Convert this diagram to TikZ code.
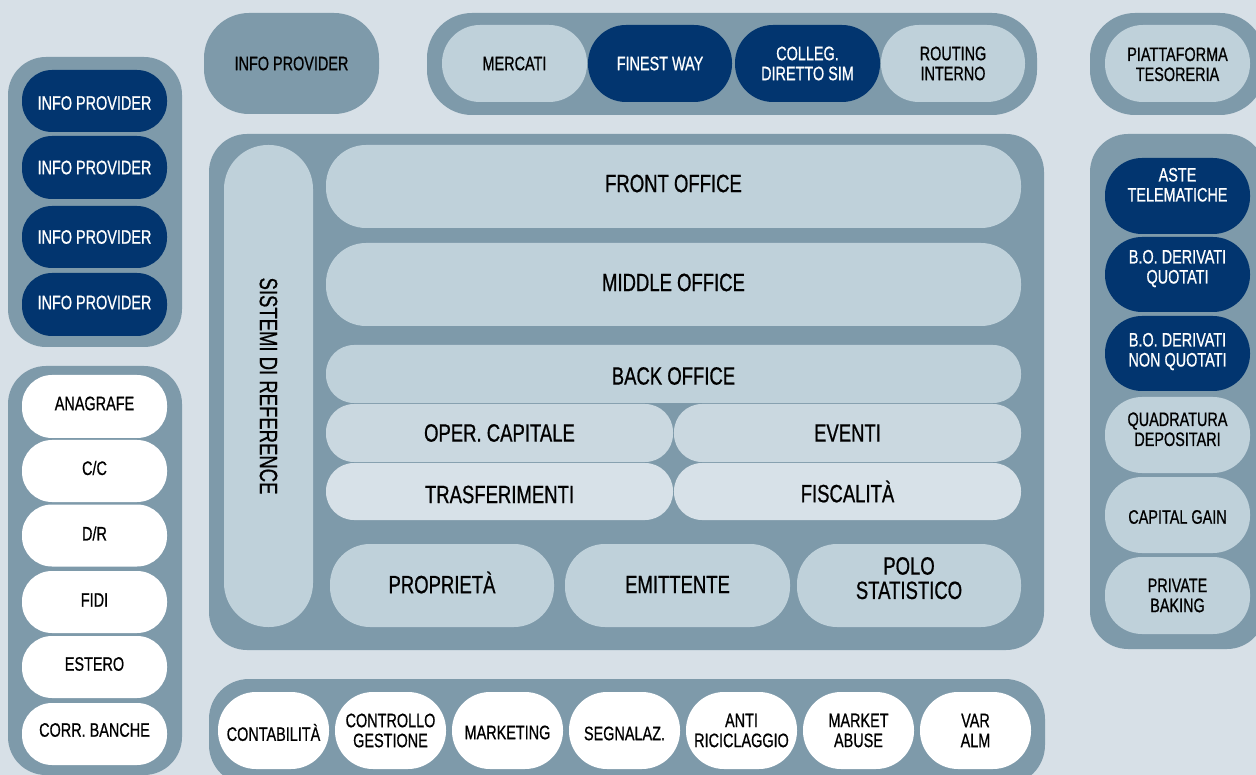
\documentclass[tikz,border=0pt]{standalone}
\usepackage{fontspec}
\setmainfont{Liberation Sans}[FakeStretch=0.74,FakeBold=0.7]
\definecolor{bgc}{HTML}{D7E0E7}
\definecolor{cdark}{HTML}{7E9AAA}
\definecolor{plight}{HTML}{BFD1DA}
\definecolor{pmid}{HTML}{CAD8E0}
\definecolor{ppale}{HTML}{D7E1E8}
\definecolor{navy}{HTML}{02356F}
\newcommand\lblS{\fontsize{19.5}{20}\selectfont}
\newcommand\lblL{\fontsize{25}{23}\selectfont}
\newcommand\shiftup[2]{\raisebox{#1}[0pt][0pt]{#2}\vphantom{#2}}
\newcommand\twoL[3]{\shiftup{#1}{\begin{tabular}{@{}c@{}}#2\\#3\end{tabular}}}
\tikzset{
  base/.style={draw=none, inner sep=0pt, outer sep=0pt, align=center, text=black},
  cont/.style={base, fill=cdark, rounded corners=38pt},
  pillS/.style={base, font=\lblS, rounded corners=#1},
  pillS/.default=30pt,
  pillL/.style={base, font=\lblL, fill=plight, rounded corners=#1},
  pillL/.default=40pt,
  navyp/.style={fill=navy, text=white},
  whitep/.style={fill=white},
  lightp/.style={fill=plight},
}
\begin{document}
\begin{tikzpicture}[x=1pt,y=-1pt]
\useasboundingbox (0,0) rectangle (1256,775);
\clip (0,0) rectangle (1256,775);
\fill[bgc] (0,0) rectangle (1256,775);

% containers
\node[cont, minimum width=174, minimum height=290] (cL1) at (95,202) {};
\node[cont, rounded corners=45pt, font=\lblS, minimum width=175, minimum height=101] (info) at (291.5,63.5) {INFO PROVIDER};
\node[cont, rounded corners=45pt, minimum width=610, minimum height=102] (cTop) at (732,64) {};
\node[cont, rounded corners=45pt, minimum width=175, minimum height=102] (cPiat) at (1177.5,64) {};
\node[cont, minimum width=835, minimum height=516] (cMain) at (626.5,392) {};
\node[cont, minimum width=175, minimum height=515] (cR) at (1177.5,391.5) {};
\node[cont, minimum width=174, minimum height=409] (cL2) at (95,570.5) {};
\node[cont, rounded corners=40pt, minimum width=836, minimum height=106] (cBot) at (627,732) {};

% left navy info providers
\node[pillS, navyp, minimum width=145, minimum height=62] (ip1) at (94.5,101) {\shiftup{-2pt}{INFO PROVIDER}};
\node[pillS, navyp, minimum width=145, minimum height=63] (ip2) at (94.5,167.5) {INFO PROVIDER};
\node[pillS, navyp, minimum width=145, minimum height=62] (ip3) at (94.5,237) {INFO PROVIDER};
\node[pillS, navyp, minimum width=145, minimum height=63] (ip4) at (94.5,304.5) {\shiftup{2pt}{INFO PROVIDER}};

% top row
\node[pillS=38pt, lightp, minimum width=145, minimum height=77] (mercati) at (514.5,63.5) {MERCATI};
\node[pillS=38pt, navyp, minimum width=144, minimum height=77] (finest) at (660,63.5) {FINEST WAY};
\node[pillS=38pt, navyp, minimum width=145, minimum height=77] (colleg) at (807.5,63.5) {COLLEG.\\DIRETTO SIM};
\node[pillS=38pt, lightp, minimum width=144, minimum height=77] (routing) at (953,63.5) {ROUTING\\INTERNO};
\node[pillS=38pt, lightp, minimum width=145, minimum height=77] (piatt) at (1177.5,63.5) {\twoL{-3.5pt}{PIATTAFORMA}{TESORERIA}};

% main block
\node[pillL=44pt, rotate=-90, minimum width=482, minimum height=89] (sist) at (268.5,386) {SISTEMI DI REFERENCE};
\node[pillL, minimum width=695, minimum height=83] (front) at (673.5,186.5) {\shiftup{3pt}{FRONT OFFICE}};
\node[pillL, minimum width=695, minimum height=83] (middle) at (673.5,284.5) {\shiftup{2pt}{MIDDLE OFFICE}};
\node[pillL=28pt, minimum width=695, minimum height=58] (back) at (673.5,374) {\shiftup{-2pt}{BACK OFFICE}};
\node[pillL=28pt, fill=pmid, minimum width=347, minimum height=58] (oper) at (499.5,433) {OPER. CAPITALE};
\node[pillL=28pt, fill=pmid, minimum width=347, minimum height=58] (eventi) at (847.5,433) {EVENTI};
\node[pillL=28pt, fill=ppale, minimum width=347, minimum height=57] (trasf) at (499.5,491.5) {\shiftup{-3pt}{TRASFERIMENTI}};
\node[pillL=28pt, fill=ppale, minimum width=347, minimum height=57] (fisc) at (847.5,491.5) {FISCALITÀ};
\node[pillL, minimum width=224, minimum height=83] (propr) at (442,585.5) {\shiftup{3pt}{PROPRIETÀ}};
\node[pillL, minimum width=225, minimum height=83] (emitt) at (677.5,585.5) {\shiftup{1pt}{EMITTENTE}};
\node[pillL, minimum width=224, minimum height=83] (polo) at (909,585.5) {\twoL{4pt}{POLO}{STATISTICO}};

% right column
\node[pillS=37pt, navyp, minimum width=145, minimum height=76] (aste) at (1177.5,196) {\twoL{8.5pt}{ASTE}{TELEMATICHE}};
\node[pillS=37pt, navyp, minimum width=145, minimum height=75] (boq) at (1177.5,274.5) {\twoL{5pt}{B.O. DERIVATI}{QUOTATI}};
\node[pillS=37pt, navyp, minimum width=145, minimum height=75] (bonq) at (1177.5,353.5) {\twoL{1pt}{B.O. DERIVATI}{NON QUOTATI}};
\node[pillS=37pt, lightp, minimum width=145, minimum height=76] (quadr) at (1177.5,435) {\twoL{3pt}{QUADRATURA}{DEPOSITARI}};
\node[pillS=37pt, lightp, minimum width=145, minimum height=76] (capg) at (1177.5,515) {\shiftup{-2pt}{CAPITAL GAIN}};
\node[pillS=37pt, lightp, minimum width=145, minimum height=77] (priv) at (1177.5,595.5) {PRIVATE\\BAKING};

% left bottom column
\node[pillS, whitep, minimum width=145, minimum height=63] (anag) at (94.5,406.5) {\shiftup{3pt}{ANAGRAFE}};
\node[pillS, whitep, minimum width=145, minimum height=62] (cc) at (94.5,471) {\shiftup{3pt}{C/C}};
\node[pillS, whitep, minimum width=145, minimum height=62] (dr) at (94.5,535.5) {\shiftup{2pt}{D/R}};
\node[pillS, whitep, minimum width=145, minimum height=62] (fidi) at (94.5,602) {\shiftup{2pt}{FIDI}};
\node[pillS, whitep, minimum width=145, minimum height=62] (estero) at (94.5,667) {\shiftup{3pt}{ESTERO}};
\node[pillS, whitep, minimum width=145, minimum height=62] (corr) at (94.5,734) {\shiftup{4pt}{CORR. BANCHE}};

% bottom row
\node[pillS=38pt, whitep, minimum width=111, minimum height=77] (contab) at (273.5,730.5) {\shiftup{-2pt}{CONTABILITÀ}};
\node[pillS=38pt, whitep, minimum width=111, minimum height=77] (contr) at (390.5,730.5) {CONTROLLO\\GESTIONE};
\node[pillS=38pt, whitep, minimum width=111, minimum height=77] (mkt) at (507.5,730.5) {\shiftup{-2pt}{MARKETING}};
\node[pillS=38pt, whitep, minimum width=111, minimum height=77] (segn) at (624.5,730.5) {\shiftup{-3pt}{SEGNALAZ.}};
\node[pillS=38pt, whitep, minimum width=111, minimum height=77] (anti) at (741.5,730.5) {ANTI\\RICICLAGGIO};
\node[pillS=38pt, whitep, minimum width=111, minimum height=77] (mabuse) at (858.5,730.5) {MARKET\\ABUSE};
\node[pillS=38pt, whitep, minimum width=111, minimum height=77] (varalm) at (975.5,730.5) {VAR\\ALM};
\end{tikzpicture}
\end{document}
